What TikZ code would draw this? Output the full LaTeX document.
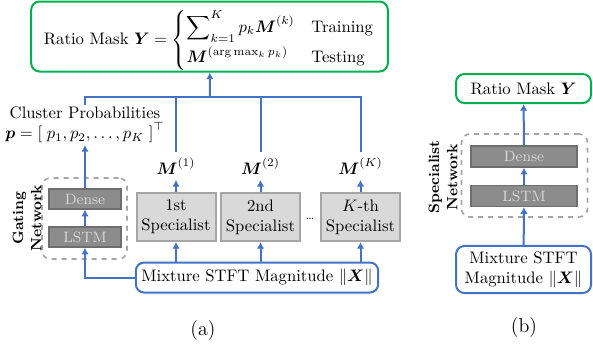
\documentclass[tikz,border=0pt]{standalone}
\usepackage{amsmath}
\usepackage{amssymb}
\usepackage{tikz}
\usetikzlibrary{positioning,arrows.meta}

\definecolor{lineblue}{HTML}{4472C4}
\definecolor{boxgreen}{HTML}{00B050}
\definecolor{specfill}{HTML}{D9D9D9}
\definecolor{specdraw}{HTML}{A6A6A6}
\definecolor{layerfill}{HTML}{8C8C8C}
\definecolor{layerdraw}{HTML}{6E6E6E}

\begin{document}
\begin{tikzpicture}[x=0.6pt,y=-0.6pt,
    flow/.style={lineblue,line width=1.2pt},
    arr/.style={flow,-{Latex[length=4pt,width=4.5pt]}},
    outbox/.style={draw=boxgreen,line width=1.2pt,rounded corners=5pt},
    inbox/.style={draw=lineblue,line width=1.2pt,rounded corners=5pt,fill=white},
    specbox/.style={draw=specdraw,fill=specfill,line width=1.2pt,minimum width=47.4pt,minimum height=28.8pt,align=center,inner sep=1pt},
    layer/.style={draw=layerdraw,fill=layerfill,text=specfill,font=\small,line width=0.8pt,inner sep=1pt},
    netbox/.style={draw=specdraw,dashed,line width=1pt,rounded corners=5pt},
    netlabel/.style={font=\small\bfseries,align=center,rotate=90}]
    \useasboundingbox (0,0) rectangle (593,350);

    % (a) Output mask
    \node[outbox,minimum width=214pt,minimum height=42pt,inner sep=1pt] (mask) at (209.5,36.5)
        {\raisebox{-2.4pt}[\height][\depth]{Ratio Mask $\boldsymbol{Y} = \begin{cases} \displaystyle\sum\nolimits_{k=1}^{K} p_k\boldsymbol{M}^{(k)} & \text{Training}\\[4pt] \boldsymbol{M}^{(\arg\max_k p_k)} & \text{Testing}\end{cases}$}};
    \coordinate (jn) at (210,97);

    % Input
    \node[inbox,minimum width=144pt,minimum height=18pt] (mix) at (257,277.5) {Mixture STFT Magnitude $\|\boldsymbol{X}\|$};

    % Specialists
    \node[specbox] (spec1) at (176,217) {1st\\Specialist};
    \node[specbox] (spec2) at (260.5,217) {2nd\\Specialist};
    \node[specbox] (specK) at (360.5,217) {$K$-th\\Specialist};
    \node[font=\scriptsize] (dots) at (310,219) {\dots};

    \node (m1) at (176,166) {$\boldsymbol{M}^{(1)}$};
    \node (m2) at (260.5,166) {$\boldsymbol{M}^{(2)}$};
    \node (mK) at (360.5,166) {$\boldsymbol{M}^{(K)}$};

    % Gating network
    \node[netbox,minimum width=51pt,minimum height=48.6pt] (gnet) at (84.5,218.5) {};
    \node[layer,minimum width=43.2pt,minimum height=12pt] (gdense) at (85,199) {Dense};
    \node[layer,minimum width=43.2pt,minimum height=12pt] (glstm) at (85,237) {LSTM};
    \node[netlabel] (glabel) at (27,218) {Gating\\Network};
    \node[align=center,inner sep=1pt] (prob) at (85,125)
        {Cluster Probabilities\\$\boldsymbol{p} = \left[\; p_1,p_2,\ldots,p_K \;\right]^{\top}$};

    % Connections
    \draw[arr] (mix.west) -| (glstm.south);
    \draw[arr] (glstm) -- (gdense);
    \draw[arr] (gdense) -- (prob);
    \draw[arr] (spec1 |- mix.north) -- (spec1);
    \draw[arr] (spec2 |- mix.north) -- (spec2);
    \draw[arr] (specK |- mix.north) -- (specK);
    \draw[arr] (spec1) -- (m1);
    \draw[arr] (spec2) -- (m2);
    \draw[arr] (specK) -- (mK);
    \draw[flow] (prob.north) |- (jn);
    \draw[flow] (mK.north) |- (jn);
    \draw[flow] (m1.north) -- (m1.north |- jn);
    \draw[flow] (m2.north) -- (m2.north |- jn);
    \draw[arr] (jn) -- (mask);

    \node[font=\large] (capa) at (203,330) {(a)};

    % (b) Specialist network
    \node[outbox,minimum width=81pt,minimum height=17.4pt] (rmask) at (523.5,88.5) {Ratio Mask $\boldsymbol{Y}$};
    \node[netbox,minimum width=75.6pt,minimum height=49.8pt] (snet) at (524.5,175.5) {};
    \node[layer,minimum width=63.6pt,minimum height=12.6pt] (sdense) at (524,156.5) {Dense};
    \node[layer,minimum width=63.6pt,minimum height=12.6pt] (slstm) at (524,196) {LSTM};
    \node[inbox,minimum width=81pt,minimum height=27pt,align=center] (smix) at (523.5,269.5) {Mixture STFT\\Magnitude $\|\boldsymbol{X}\|$};
    \node[netlabel] (slabel) at (443,177) {Specialist\\Network};

    \draw[arr] (smix) -- (slstm);
    \draw[arr] (slstm) -- (sdense);
    \draw[arr] (sdense) -- (rmask);

    \node[font=\large] (capb) at (524,327) {(b)};
\end{tikzpicture}
\end{document}
